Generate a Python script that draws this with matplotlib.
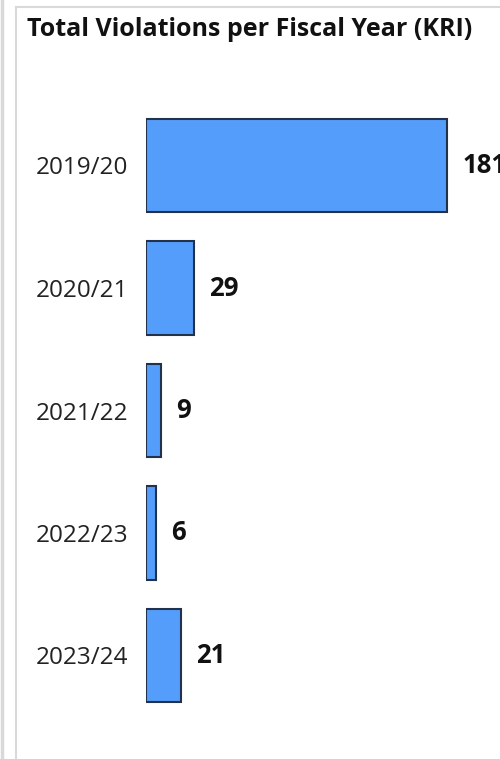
import matplotlib.pyplot as plt
from matplotlib.lines import Line2D

years = ['2019/20', '2020/21', '2021/22', '2022/23', '2023/24']
violations = [181, 29, 9, 6, 21]
title = 'Total Violations per Fiscal Year (KRI)'

plt.rcParams['font.family'] = ['Open Sans', 'DejaVu Sans']

W, H = 500, 759
fig = plt.figure(figsize=(W / 100, H / 100), dpi=100)

# panel borders (screenshot frame)
gray = '#d9d9d9'
fig.add_artist(Line2D([1.5 / W, 1.5 / W], [0, 1], color=gray, lw=2.5))
fig.add_artist(Line2D([16 / W, 16 / W], [0, 1 - 7 / H], color=gray, lw=1.5))
fig.add_artist(Line2D([16 / W, 1], [1 - 7 / H, 1 - 7 / H], color=gray, lw=1.5))

fig.text(27 / W, 1 - 29 / H, title, fontsize=18, fontweight='bold',
         va='center', ha='left', color='#111111')

# axes placement: value 0 at x=146px, bar rows spaced ~122.5px
left, right = 146 / W, 496 / W
top, bottom = 1 - 104.25 / H, 1 - 716.75 / H
ax = fig.add_axes([left, bottom, right - left, top - bottom])
px_per_unit = 301 / 181
ax.set_xlim(0, (496 - 146) / px_per_unit)

ypos = list(range(len(years)))
ax.barh(ypos, violations, height=0.76, color='#559dfb', edgecolor='#22324a', linewidth=1.5)
ax.set_ylim(len(years) - 0.5, -0.5)
ax.set_yticks(ypos)
ax.set_yticklabels(years, fontsize=17.5, color='#222222')
ax.tick_params(axis='y', length=0, pad=13)
ax.set_xticks([])
for s in ax.spines.values():
    s.set_visible(False)

for y, v in zip(ypos, violations):
    ax.annotate(str(v), (v, y), xytext=(11, 0), textcoords='offset points',
                va='center', ha='left', fontsize=18.5, fontweight='bold', color='#111111')

fig.savefig('out.png', dpi=100)
